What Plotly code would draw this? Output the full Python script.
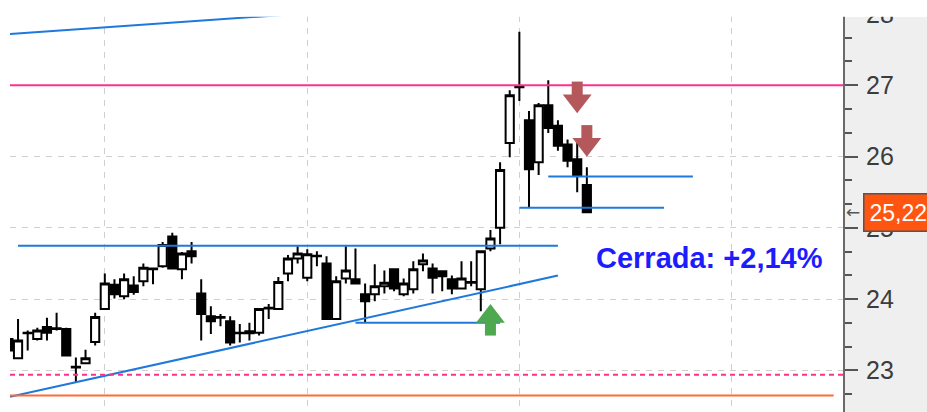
import plotly.graph_objects as go

# ---------------- data ----------------
idx = list(range(61))
opens = [23.44, 23.17, 23.53, 23.44, 23.61, 23.59, 23.58, 23.05, 23.10, 23.40,
         23.86, 24.20, 24.04, 24.19, 24.25, 24.42, 24.46, 24.88, 24.42, 24.67,
         24.08, 23.76, 23.75, 23.69, 23.53, 23.52, 23.53, 23.87, 23.86, 24.36,
         24.57, 24.30, 24.60, 24.50, 23.72, 24.29, 24.28, 24.07, 24.07, 24.18,
         24.42, 24.07, 24.14, 24.49, 24.43, 24.39, 24.28, 24.15, 24.24, 24.14,
         24.71, 25.00, 26.19, 26.99, 26.51, 25.92, 26.72, 26.43, 26.17, 25.96,
         25.60]
highs = [23.72, 23.72, 23.56, 23.60, 23.74, 23.81, 23.60, 23.18, 23.29, 23.81,
         24.36, 24.28, 24.36, 24.32, 24.50, 24.43, 24.80, 24.93, 24.66, 24.80,
         24.28, 23.90, 23.79, 23.76, 23.65, 23.67, 23.86, 23.93, 24.31, 24.62,
         24.74, 24.70, 24.67, 24.60, 24.32, 24.74, 24.71, 24.22, 24.49, 24.40,
         24.42, 24.29, 24.53, 24.64, 24.50, 24.40, 24.33, 24.53, 24.53, 24.67,
         24.97, 25.92, 26.93, 27.75, 26.64, 26.75, 27.07, 26.51, 26.24, 26.19,
         25.85]
lows = [23.28, 23.17, 23.28, 23.42, 23.42, 23.56, 23.21, 22.83, 23.10, 23.35,
        23.86, 24.01, 24.00, 24.06, 24.18, 24.21, 24.44, 24.42, 24.28, 24.50,
        23.42, 23.51, 23.62, 23.35, 23.39, 23.42, 23.49, 23.72, 23.86, 24.25,
        24.50, 24.25, 24.46, 23.72, 23.72, 24.22, 24.22, 23.67, 23.97, 24.08,
        24.11, 24.04, 24.08, 24.39, 24.08, 24.11, 24.07, 24.14, 24.18, 23.83,
        24.67, 24.77, 25.99, 26.78, 25.29, 25.74, 26.33, 26.08, 25.85, 25.50,
        25.22]
closes = [23.28, 23.42, 23.52, 23.56, 23.53, 23.58, 23.21, 23.04, 23.17, 23.75,
          24.22, 24.07, 24.28, 24.10, 24.44, 24.43, 24.76, 24.43, 24.64, 24.60,
          23.79, 23.69, 23.74, 23.39, 23.52, 23.55, 23.86, 23.88, 24.24, 24.57,
          24.64, 24.63, 24.61, 23.72, 24.25, 24.40, 24.22, 23.97, 24.18, 24.23,
          24.15, 24.22, 24.42, 24.54, 24.30, 24.32, 24.15, 24.29, 24.23, 24.67,
          24.85, 25.81, 26.86, 26.97, 25.82, 26.72, 26.40, 26.15, 25.94, 25.74,
          25.22]

# drawn blue lines (start index, start price, end index, end price)
seg_x0 = [0.17, 1, 0.17, 36, 56, 53]
seg_y0 = [27.72, 24.75, 22.63, 23.67, 25.72, 25.28]
seg_x1 = [30, 57, 57, 51, 71, 68]
seg_y1 = [28.00, 24.75, 24.33, 23.67, 25.72, 25.28]

pink_level = 27.0
pink_dash_level = 22.94
orange_level = 22.65
orange_end = 85.6

# signals: index and arrow-tip price
buy_x = [50]
buy_tip = [23.93]
sell_x = [59, 60]
sell_tip = [26.61, 26.00]

grid_x = [10, 31, 53, 75]
y_ticks = [23, 24, 25, 26, 27, 28]
change_text = "Cerrada: +2,14%"
text_x, text_y = 72.7, 24.58

# ---------------- layout constants ----------------
W, H = 927, 412
ML, MR, MT, MB = 10, 84, 0, 0
x_range = [0.166, 86.57]
y_range = [22.417, 28.139]
ppu = (H - MT - MB) / (y_range[1] - y_range[0])  # pixels per price unit

BLUE = "#1f78dc"
PINK = "#ff2f8c"
ORANGE = "#ff6a35"
GREEN = "#4da84f"
RED = "#b5585b"
FONT = "Liberation Sans, Arial, sans-serif"

fig = go.Figure()

# blue drawn lines
for a, b, c, d in zip(seg_x0, seg_y0, seg_x1, seg_y1):
    fig.add_trace(go.Scatter(x=[a, c], y=[b, d], mode="lines",
                             line=dict(color=BLUE, width=2), hoverinfo="skip"))

# horizontal levels
fig.add_trace(go.Scatter(x=x_range, y=[pink_level, pink_level], mode="lines",
                         line=dict(color=PINK, width=2), hoverinfo="skip"))
fig.add_trace(go.Scatter(x=x_range, y=[pink_dash_level, pink_dash_level], mode="lines",
                         line=dict(color=PINK, width=2, dash="5px,4px"), hoverinfo="skip"))
fig.add_trace(go.Scatter(x=[x_range[0], orange_end], y=[orange_level, orange_level],
                         mode="lines", line=dict(color=ORANGE, width=2), hoverinfo="skip"))

# candles
fig.add_trace(go.Candlestick(
    x=idx, open=opens, high=highs, low=lows, close=closes,
    increasing=dict(fillcolor="white", line=dict(color="black", width=2)),
    decreasing=dict(fillcolor="black", line=dict(color="black", width=2)),
    whiskerwidth=0, hoverinfo="skip"))

# arrows: head (triangle) + stem
head_size = 25
head_r = head_size / 2.0
stem_len = 13
for xs, tips, up, col in [(buy_x, buy_tip, True, GREEN), (sell_x, sell_tip, False, RED)]:
    sgn = 1 if up else -1
    centers = [t - sgn * head_r / ppu for t in tips]
    fig.add_trace(go.Scatter(
        x=xs, y=centers, mode="markers",
        marker=dict(symbol="triangle-up" if up else "triangle-down",
                    size=head_size, color=col, line=dict(width=0)),
        hoverinfo="skip"))
    sx, sy = [], []
    for x, t in zip(xs, tips):
        base = t - sgn * (1.5 * head_r) / ppu
        sx += [x, x, None]
        sy += [base + sgn * 1 / ppu, base - sgn * stem_len / ppu, None]
    fig.add_trace(go.Scatter(x=sx, y=sy, mode="lines",
                             line=dict(color=col, width=11), hoverinfo="skip"))

# text annotation
fig.add_annotation(x=text_x, y=text_y, xref="x", yref="y", text=change_text,
                   showarrow=False,
                   font=dict(family=FONT, size=29, color="#1c1cff", weight="bold"))

# last price label
last_txt = f"{closes[-1]:.2f}".replace(".", ",")
plot_w = W - ML - MR
fig.add_annotation(x=(863 - ML) / plot_w, y=closes[-1], xref="paper", yref="y",
                   xanchor="left", yanchor="middle", text=last_txt, showarrow=False,
                   font=dict(family=FONT, size=23, color="white"),
                   bgcolor="#ff5511", bordercolor="#555555", borderwidth=1.5, borderpad=5)
fig.add_annotation(x=(853 - ML) / plot_w, y=closes[-1], xref="paper", yref="y",
                   xanchor="center", yanchor="middle", text="←", showarrow=False,
                   font=dict(family="DejaVu Sans", size=17, color="#555555"))

top_cut = 13 / H
fig.update_layout(
    width=W, height=H,
    margin=dict(l=ML, r=MR, t=MT, b=MB, pad=0),
    paper_bgcolor="white", plot_bgcolor="white",
    showlegend=False,
    boxgap=0.15, boxgroupgap=0,
    shapes=[
        dict(type="rect", xref="paper", yref="paper", x0=1, x1=1.2, y0=-0.1,
             y1=1 - top_cut, fillcolor="#efefef", line=dict(width=0), layer="below"),
        dict(type="rect", xref="paper", yref="paper", x0=-0.05, x1=1.2,
             y0=1 - top_cut, y1=1.1, fillcolor="white", line=dict(width=0), layer="above"),
    ],
    xaxis=dict(range=x_range, showgrid=True, tickvals=grid_x, showticklabels=False,
               ticks="", gridcolor="#cfcfcf", gridwidth=1, griddash="6px,6px",
               zeroline=False, showline=False, rangeslider=dict(visible=False),
               fixedrange=True),
    yaxis=dict(range=y_range, side="right", tickvals=y_ticks, showgrid=True,
               gridcolor="#cfcfcf", gridwidth=1, griddash="6px,6px",
               ticks="outside", ticklen=13, tickwidth=2, tickcolor="#555555",
               minor=dict(dtick=1 / 3, tick0=0, ticks="outside", ticklen=7,
                          tickwidth=2, tickcolor="#555555", showgrid=False),
               showline=True, linecolor="#6a6a6a", linewidth=2, zeroline=False,
               ticklabelstandoff=3, ticklabeloverflow="allow",
               tickfont=dict(family=FONT, size=25, color="#3c3c3c"),
               fixedrange=True),
)

fig.write_html("out.html", config={"displayModeBar": False},
               post_script="document.body.style.margin='0';document.body.style.overflow='hidden';")
